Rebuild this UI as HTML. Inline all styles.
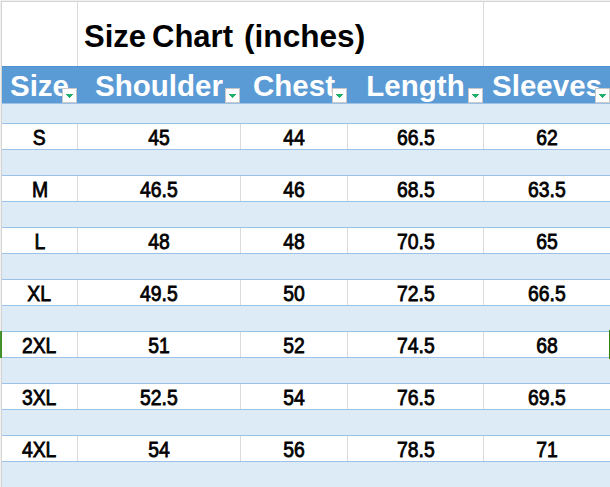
<!DOCTYPE html>
<html><head><meta charset="utf-8">
<style>
*{margin:0;padding:0;box-sizing:border-box}
html,body{width:610px;height:487px;overflow:hidden;background:#fff}
body{position:relative;font-family:"Liberation Sans",Arial,sans-serif}
.a{position:absolute}
.eL{left:0;top:0;width:1px;height:487px;background:#f0f0f0}
.gL{left:1px;top:0;width:1px;height:487px;background:#d4d4d4}
.eT{left:0;top:0;width:610px;height:1px;background:#f0f0f0}
.gT{left:1px;top:1px;width:609px;height:1px;background:#d4d4d4}
.vg{width:1px;background:#dadada}
.hdr{left:2px;top:66px;width:608px;height:37px;background:#5b9bd5;border-top:1px solid #4e91d3}
.band{left:2px;width:608px;height:25px;background:#ddebf7}
.ln{left:2px;width:608px;height:1px;background:#9bc2e6}
.title{left:84px;top:17px;font-weight:bold;font-size:31px;line-height:40px;color:#000;white-space:nowrap}
.h{top:70px;height:32px;font-weight:bold;font-size:29.5px;line-height:32px;color:#fff;text-align:center;white-space:nowrap}
.dd{top:88px;width:15px;height:15px;background:#fff;border:1px solid #c8c8c8}
.dd:after{content:"";position:absolute;left:3px;top:5px;width:7px;height:4px;background:#1fb06a;clip-path:polygon(0 0,7px 0,7px 1px,6px 1px,6px 2px,5px 2px,5px 3px,4px 3px,4px 4px,3px 4px,3px 3px,2px 3px,2px 2px,1px 2px,1px 1px,0 1px)}
.r{height:25px}
.c{position:absolute;top:2px;height:25px;font-weight:normal;-webkit-text-stroke:0.8px #000;font-size:21.5px;line-height:25px;color:#000;text-align:center;white-space:nowrap}
.c span{display:inline-block;transform:scaleX(0.9)}
.c1{left:2px;width:75px}
.c2{left:78px;width:162px}
.c3{left:241px;width:106px}
.c4{left:348px;width:135px}
.c5{left:484px;width:126px}
.sel{background:#2f8a1f}
</style></head><body>
<div class="a eL"></div><div class="a gL"></div>
<div class="a eT"></div><div class="a gT"></div>
<!-- title row gridlines -->
<div class="a vg" style="left:77px;top:2px;height:64px"></div>
<div class="a vg" style="left:483px;top:2px;height:64px"></div>
<div class="a title" style="left:84px">Size</div>
<div class="a title" style="left:152px">Chart</div>
<div class="a title" style="left:244px;transform-origin:0 0;transform:scaleX(1.02)">(inches)</div>

<div class="a hdr"></div>
<div class="a h" style="left:2px;width:75px">Size</div>
<div class="a h" style="left:78px;width:162px">Shoulder</div>
<div class="a h" style="left:241px;width:106px">Chest</div>
<div class="a h" style="left:348px;width:135px">Length</div>
<div class="a h" style="left:484px;width:126px">Sleeves</div>
<div class="a dd" style="left:62px"></div>
<div class="a dd" style="left:225px"></div>
<div class="a dd" style="left:332px"></div>
<div class="a dd" style="left:468px"></div>
<div class="a dd" style="left:595px"></div>

<div class="a ln" style="top:103px"></div>
<div class="a band" style="top:104px;height:19px"></div>
<div class="a ln" style="top:123px"></div>
<div class="a r" style="left:0;top:124px;width:610px">
<div class="a vg" style="left:77px;top:0;height:25px"></div>
<div class="a vg" style="left:240px;top:0;height:25px"></div>
<div class="a vg" style="left:347px;top:0;height:25px"></div>
<div class="a vg" style="left:483px;top:0;height:25px"></div>
<div class="c c1"><span>S</span></div>
<div class="c c2"><span>45</span></div>
<div class="c c3"><span>44</span></div>
<div class="c c4"><span>66.5</span></div>
<div class="c c5"><span>62</span></div>
</div>
<div class="a ln" style="top:149px"></div>
<div class="a band" style="top:150px"></div>
<div class="a ln" style="top:175px"></div>
<div class="a r" style="left:0;top:176px;width:610px">
<div class="a vg" style="left:77px;top:0;height:25px"></div>
<div class="a vg" style="left:240px;top:0;height:25px"></div>
<div class="a vg" style="left:347px;top:0;height:25px"></div>
<div class="a vg" style="left:483px;top:0;height:25px"></div>
<div class="c c1"><span>M</span></div>
<div class="c c2"><span>46.5</span></div>
<div class="c c3"><span>46</span></div>
<div class="c c4"><span>68.5</span></div>
<div class="c c5"><span>63.5</span></div>
</div>
<div class="a ln" style="top:201px"></div>
<div class="a band" style="top:202px"></div>
<div class="a ln" style="top:227px"></div>
<div class="a r" style="left:0;top:228px;width:610px">
<div class="a vg" style="left:77px;top:0;height:25px"></div>
<div class="a vg" style="left:240px;top:0;height:25px"></div>
<div class="a vg" style="left:347px;top:0;height:25px"></div>
<div class="a vg" style="left:483px;top:0;height:25px"></div>
<div class="c c1"><span>L</span></div>
<div class="c c2"><span>48</span></div>
<div class="c c3"><span>48</span></div>
<div class="c c4"><span>70.5</span></div>
<div class="c c5"><span>65</span></div>
</div>
<div class="a ln" style="top:253px"></div>
<div class="a band" style="top:254px"></div>
<div class="a ln" style="top:279px"></div>
<div class="a r" style="left:0;top:280px;width:610px">
<div class="a vg" style="left:77px;top:0;height:25px"></div>
<div class="a vg" style="left:240px;top:0;height:25px"></div>
<div class="a vg" style="left:347px;top:0;height:25px"></div>
<div class="a vg" style="left:483px;top:0;height:25px"></div>
<div class="c c1"><span>XL</span></div>
<div class="c c2"><span>49.5</span></div>
<div class="c c3"><span>50</span></div>
<div class="c c4"><span>72.5</span></div>
<div class="c c5"><span>66.5</span></div>
</div>
<div class="a ln" style="top:305px"></div>
<div class="a band" style="top:306px"></div>
<div class="a ln" style="top:331px"></div>
<div class="a r" style="left:0;top:332px;width:610px">
<div class="a vg" style="left:77px;top:0;height:25px"></div>
<div class="a vg" style="left:240px;top:0;height:25px"></div>
<div class="a vg" style="left:347px;top:0;height:25px"></div>
<div class="a vg" style="left:483px;top:0;height:25px"></div>
<div class="c c1"><span>2XL</span></div>
<div class="c c2"><span>51</span></div>
<div class="c c3"><span>52</span></div>
<div class="c c4"><span>74.5</span></div>
<div class="c c5"><span>68</span></div>
</div>
<div class="a ln" style="top:357px"></div>
<div class="a band" style="top:358px"></div>
<div class="a ln" style="top:383px"></div>
<div class="a r" style="left:0;top:384px;width:610px">
<div class="a vg" style="left:77px;top:0;height:25px"></div>
<div class="a vg" style="left:240px;top:0;height:25px"></div>
<div class="a vg" style="left:347px;top:0;height:25px"></div>
<div class="a vg" style="left:483px;top:0;height:25px"></div>
<div class="c c1"><span>3XL</span></div>
<div class="c c2"><span>52.5</span></div>
<div class="c c3"><span>54</span></div>
<div class="c c4"><span>76.5</span></div>
<div class="c c5"><span>69.5</span></div>
</div>
<div class="a ln" style="top:409px"></div>
<div class="a band" style="top:410px"></div>
<div class="a ln" style="top:435px"></div>
<div class="a r" style="left:0;top:436px;width:610px">
<div class="a vg" style="left:77px;top:0;height:25px"></div>
<div class="a vg" style="left:240px;top:0;height:25px"></div>
<div class="a vg" style="left:347px;top:0;height:25px"></div>
<div class="a vg" style="left:483px;top:0;height:25px"></div>
<div class="c c1"><span>4XL</span></div>
<div class="c c2"><span>54</span></div>
<div class="c c3"><span>56</span></div>
<div class="c c4"><span>78.5</span></div>
<div class="c c5"><span>71</span></div>
</div>
<div class="a ln" style="top:461px"></div>
<div class="a band" style="top:462px"></div>
<div class="a" style="left:0;top:331px;width:1px;height:27px;background:#4a9430"></div>
<div class="a" style="left:1px;top:331px;width:1px;height:27px;background:#3c8c22"></div>
<div class="a" style="left:609px;top:330px;width:1px;height:29px;background:#2e8712"></div>
</body></html>
